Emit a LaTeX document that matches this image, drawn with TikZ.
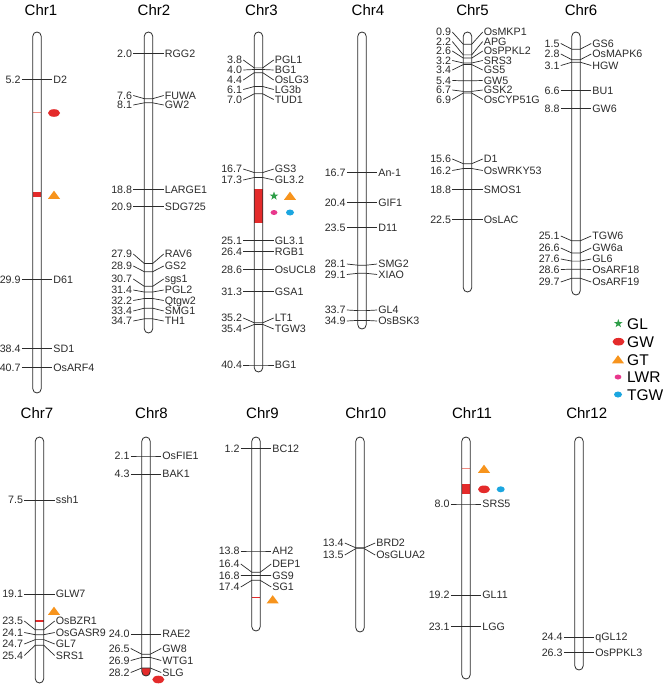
\documentclass[tikz,border=0pt]{standalone}
\usepackage{fontspec}
\setmainfont{Liberation Sans}
\usetikzlibrary{shapes.geometric}
\definecolor{gwred}{HTML}{E42B2B}
\definecolor{thinred}{HTML}{F28B82}
\definecolor{gtorange}{HTML}{F7941D}
\definecolor{glgreen}{HTML}{2E9E48}
\definecolor{lwrpink}{HTML}{E8378C}
\definecolor{tgwblue}{HTML}{1BA6E0}
\definecolor{ink}{HTML}{2B2B2B}
\newcommand\mkr[6]{%
  \node[numlab] (n#6) at ({#1-15.2},#3) {#4};
  \node[genelab] (g#6) at ({#1+15.2},#3) {#5};
  \draw[mkline] (n#6.east) -- ({#1-4.2},#2) -- ({#1+4.2},#2) -- (g#6.west);
}
\newcommand\chromo[5]{%
  \draw[chromline] ({#2-4.2},#3) rectangle ({#2+4.2},#4);
  \coordinate (c#1) at (#2,#3);
  \node[chrtitle] (t#1) at (#5) {Chr#1};
}
\newcommand\gtmark[2]{\fill[gtorange] ({#1-6},{#2+3.8}) -- ({#1+6},{#2+3.8}) -- (#1,{#2-4.3}) -- cycle;}
\newcommand\gwmark[2]{\fill[gwred] (#1,#2) ellipse [x radius=6pt, y radius=3.8pt];}
\newcommand\lwrmark[2]{\fill[lwrpink] (#1,#2) ellipse [x radius=3.4pt, y radius=2.5pt];}
\newcommand\tgwmark[2]{\fill[tgwblue] (#1,#2) ellipse [x radius=4pt, y radius=3pt];}
\newcommand\blockin[3]{\fill[gwred] ({#1-4.2},#2) rectangle ({#1+4.2},#3);}
\newcommand\thinin[3]{\draw[#3, line width=1.2pt] ({#1-4.2},#2) -- ({#1+4.2},#2);}
\begin{document}
\begin{tikzpicture}[x=1pt,y=-1pt,
  numlab/.style={anchor=east, font=\fontsize{10.7}{12}\selectfont, text=ink, inner sep=1pt, text height=7.7pt, text depth=0pt},
  genelab/.style={anchor=west, font=\fontsize{10.7}{12}\selectfont, text=ink, inner sep=1pt, text height=7.7pt, text depth=0pt},
  mkline/.style={draw=ink, line width=0.7pt},
  chromline/.style={draw=ink, line width=0.8pt, rounded corners=4.2pt},
  chrtitle/.style={font=\fontsize{15}{17}\selectfont, text=black, inner sep=0pt},
  legtext/.style={anchor=west, font=\fontsize{15.5}{17}\selectfont, text=black, inner sep=0pt, text height=11pt, text depth=0pt},
  glstar/.style={star, star points=5, star point ratio=2.5, fill=glgreen, inner sep=0pt, minimum size=9pt}]
\useasboundingbox (0,0) rectangle (669,687);
\fill[white] (0,0) rectangle (669,687);
% ---- in-chromosome QTL marks
\thinin{37}{112.7}{thinred}
\blockin{37}{191.7}{196.7}
\blockin{258.5}{188.5}{222.5}
\thinin{39.5}{621}{gwred}
\begin{scope}
  \clip[rounded corners=4.2pt] (141.8,437) rectangle (150.2,676);
  \fill[gwred] (141.8,668) rectangle (150.2,676);
\end{scope}
\thinin{256}{597.3}{gwred}
\thinin{466}{468.3}{thinred}
\blockin{466}{484.3}{494.3}
% ---- markers
% Chr1
\mkr{37}{79.2}{79.2}{5.2}{D2}{a1}
\mkr{37}{279.8}{279.8}{29.9}{D61}{a2}
\mkr{37}{348.8}{348.8}{38.4}{SD1}{a3}
\mkr{37}{367.5}{367.5}{40.7}{OsARF4}{a4}
% Chr2
\mkr{148.5}{53.2}{53.2}{2.0}{RGG2}{b1}
\mkr{148.5}{98.7}{95.5}{7.6}{FUWA}{b2}
\mkr{148.5}{102.8}{105}{8.1}{GW2}{b3}
\mkr{148.5}{189.7}{189.7}{18.8}{LARGE1}{b4}
\mkr{148.5}{206.7}{206.7}{20.9}{SDG725}{b5}
\mkr{148.5}{263.5}{254}{27.9}{RAV6}{b6}
\mkr{148.5}{271.7}{266}{28.9}{GS2}{b7}
\mkr{148.5}{286.3}{279}{30.7}{sgs1}{b8}
\mkr{148.5}{292}{290}{31.4}{PGL2}{b9}
\mkr{148.5}{298.5}{300.5}{32.2}{Qtgw2}{b10}
\mkr{148.5}{308.2}{311}{33.4}{SMG1}{b11}
\mkr{148.5}{318.8}{321}{34.7}{TH1}{b12}
% Chr3
\mkr{258.5}{67.9}{60}{3.8}{PGL1}{c1}
\mkr{258.5}{69.5}{70}{4.0}{BG1}{c2}
\mkr{258.5}{72.7}{80}{4.4}{OsLG3}{c3}
\mkr{258.5}{86.5}{89.5}{6.1}{LG3b}{c4}
\mkr{258.5}{93.8}{99.5}{7.0}{TUD1}{c5}
\mkr{258.5}{172.6}{169}{16.7}{GS3}{c6}
\mkr{258.5}{177.5}{180}{17.3}{GL3.2}{c7}
\mkr{258.5}{240.8}{240.8}{25.1}{GL3.1}{c8}
\mkr{258.5}{251.4}{251.4}{26.4}{RGB1}{c9}
\mkr{258.5}{269.2}{269.2}{28.6}{OsUCL8}{c10}
\mkr{258.5}{291.2}{291.2}{31.3}{GSA1}{c11}
\mkr{258.5}{322.8}{318}{35.2}{LT1}{c12}
\mkr{258.5}{324.4}{329}{35.4}{TGW3}{c13}
\mkr{258.5}{365}{365}{40.4}{BG1}{c14}
% Chr4
\mkr{362}{172.6}{172.6}{16.7}{An-1}{d1}
\mkr{362}{202.6}{202.6}{20.4}{GIF1}{d2}
\mkr{362}{227.8}{227.8}{23.5}{D11}{d3}
\mkr{362}{265.2}{264}{28.1}{SMG2}{d4}
\mkr{362}{273.3}{274.5}{29.1}{XIAO}{d5}
\mkr{362}{310.6}{310}{33.7}{GL4}{d6}
\mkr{362}{320.4}{321}{34.9}{OsBSK3}{d7}
% Chr5
\mkr{467.5}{44.3}{32}{0.9}{OsMKP1}{e1}
\mkr{467.5}{54.9}{41.5}{2.2}{APG}{e2}
\mkr{467.5}{58.1}{51}{2.6}{OsPPKL2}{e3}
\mkr{467.5}{63}{60.5}{3.2}{SRS3}{e4}
\mkr{467.5}{64.6}{70}{3.4}{GS5}{e5}
\mkr{467.5}{80.8}{80.5}{5.4}{GW5}{e6}
\mkr{467.5}{91.4}{90}{6.7}{GSK2}{e7}
\mkr{467.5}{93}{99.5}{6.9}{OsCYP51G}{e8}
\mkr{467.5}{163.7}{159}{15.6}{D1}{e9}
\mkr{467.5}{168.5}{170.5}{16.2}{OsWRKY53}{e10}
\mkr{467.5}{189.7}{189.7}{18.8}{SMOS1}{e11}
\mkr{467.5}{219.7}{219.7}{22.5}{OsLAC}{e12}
% Chr6
\mkr{576}{49.2}{43.5}{1.5}{GS6}{f1}
\mkr{576}{59.7}{54}{2.8}{OsMAPK6}{f2}
\mkr{576}{62.2}{65.5}{3.1}{HGW}{f3}
\mkr{576}{90.6}{90.6}{6.6}{BU1}{f4}
\mkr{576}{108.5}{108.5}{8.8}{GW6}{f5}
\mkr{576}{240.8}{236}{25.1}{TGW6}{f6}
\mkr{576}{253}{248}{26.6}{GW6a}{f7}
\mkr{576}{261.1}{259}{27.6}{GL6}{f8}
\mkr{576}{269.2}{269.5}{28.6}{OsARF18}{f9}
\mkr{576}{278.2}{282}{29.7}{OsARF19}{f10}
% Chr7
\mkr{39.5}{499.9}{499.9}{7.5}{ssh1}{g1}
\mkr{39.5}{594.1}{594.1}{19.1}{GLW7}{g2}
\mkr{39.5}{629.8}{621}{23.5}{OsBZR1}{g3}
\mkr{39.5}{634.7}{632.5}{24.1}{OsGASR9}{g4}
\mkr{39.5}{639.6}{644}{24.7}{GL7}{g5}
\mkr{39.5}{645.2}{655.5}{25.4}{SRS1}{g6}
% Chr8
\mkr{146}{456}{456}{2.1}{OsFIE1}{h1}
\mkr{146}{473.9}{473.9}{4.3}{BAK1}{h2}
\mkr{146}{633.9}{633.9}{24.0}{RAE2}{h3}
\mkr{146}{654.2}{648.5}{26.5}{GW8}{h4}
\mkr{146}{657.4}{660.5}{26.9}{WTG1}{h5}
\mkr{146}{668}{672.5}{28.2}{SLG}{h6}
% Chr9
\mkr{256}{448.7}{448.7}{1.2}{BC12}{i1}
\mkr{256}{551}{551}{13.8}{AH2}{i2}
\mkr{256}{572.2}{564}{16.4}{DEP1}{i3}
\mkr{256}{575.4}{575.5}{16.8}{GS9}{i4}
\mkr{256}{580.3}{587}{17.4}{SG1}{i5}
% Chr10
\mkr{360}{547.8}{543}{13.4}{BRD2}{j1}
\mkr{360}{548.6}{555}{13.5}{OsGLUA2}{j2}
% Chr11
\mkr{466}{504}{504}{8.0}{SRS5}{k1}
\mkr{466}{594.9}{594.9}{19.2}{GL11}{k2}
\mkr{466}{626.6}{626.6}{23.1}{LGG}{k3}
% Chr12
\mkr{579}{637.1}{637.1}{24.4}{qGL12}{l1}
\mkr{579}{652.6}{652.6}{26.3}{OsPPKL3}{l2}
% ---- chromosomes
\chromo{1}{37}{32}{393}{41,10}
\chromo{2}{148.5}{32}{333}{154,10}
\chromo{3}{258.5}{32}{372}{261.5,10}
\chromo{4}{362}{32}{329}{368,10}
\chromo{5}{467.5}{32}{292}{472.5,10}
\chromo{6}{576}{32}{295}{581,10}
\chromo{7}{39.5}{437}{683}{37,413}
\chromo{8}{146}{437}{676}{151.5,413}
\chromo{9}{256}{437}{631}{262.5,413}
\chromo{10}{360}{437}{632}{365.8,413}
\chromo{11}{466}{437}{679}{472,413}
\chromo{12}{579}{437}{670}{586.7,413}
% ---- trait symbols
\gwmark{54}{113}
\gtmark{54}{195}
\node[glstar] (s3) at (274,196) {};
\gtmark{290}{196}
\lwrmark{274}{212.5}
\tgwmark{290}{212.5}
\gtmark{54}{611}
\gwmark{158.3}{679.5}
\gtmark{272.7}{599.5}
\gtmark{484}{469}
\gwmark{484}{489.3}
\tgwmark{500.7}{489.3}
% ---- legend
\node[glstar] (lsGL) at (618.3,323.5) {};
\node[legtext] (lGL) at (627,323.5) {GL};
\gwmark{618.5}{341.7}
\node[legtext] (lGW) at (627,341.7) {GW};
\gtmark{618}{359.5}
\node[legtext] (lGT) at (627,359.5) {GT};
\lwrmark{618}{377}
\node[legtext] (lLWR) at (627,377) {LWR};
\tgwmark{618}{394.5}
\node[legtext] (lTGW) at (627,394.5) {TGW};
\end{tikzpicture}
\end{document}
